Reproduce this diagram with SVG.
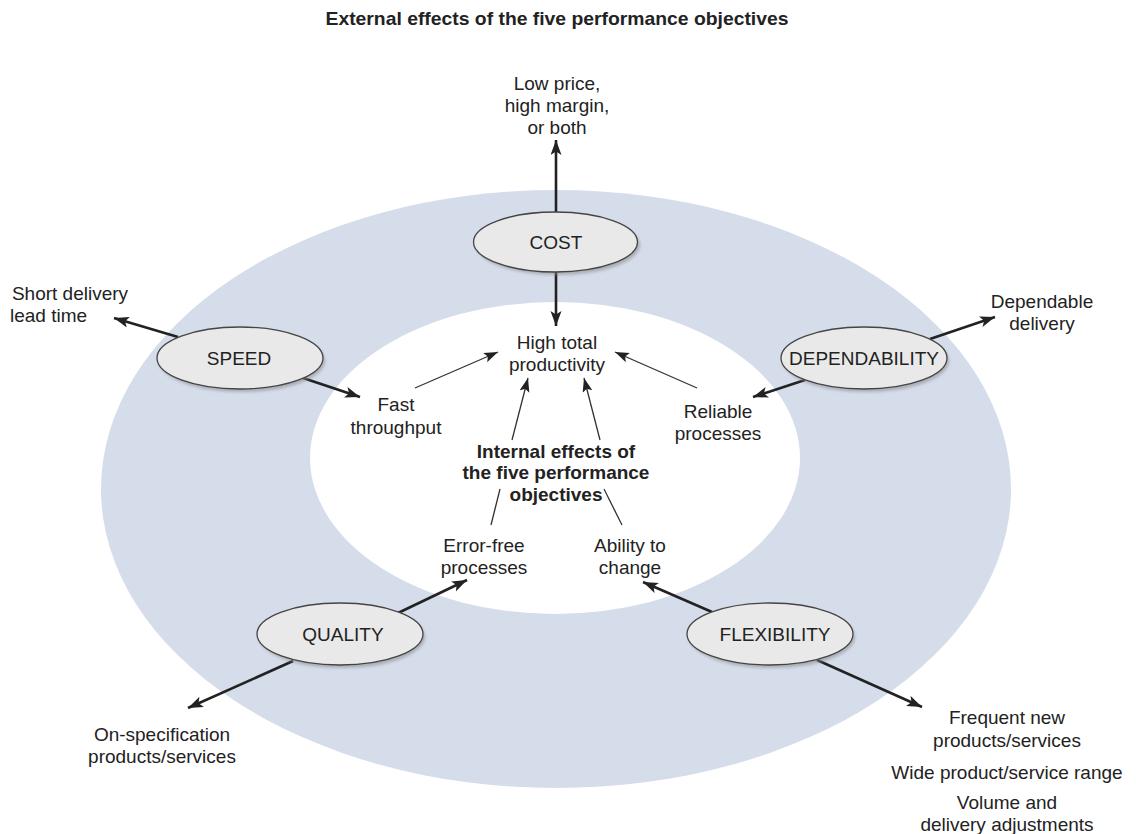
<svg xmlns="http://www.w3.org/2000/svg" width="1136" height="834" viewBox="0 0 1136 834">
<defs>
<style>
text{font-family:"Liberation Sans",Arial,sans-serif;font-size:19px;fill:#222;text-anchor:middle}
.b{font-weight:bold}
.node{fill:#e9e9e9;stroke:#444;stroke-width:1.3}
.shadow{fill:#888;opacity:0.55}
.thick{stroke:#222;stroke-width:2.6;fill:none;marker-end:url(#ah)}
.thin{stroke:#333;stroke-width:1.3;fill:none}
.thina{stroke:#333;stroke-width:1.3;fill:none;marker-end:url(#ah2)}
</style>
<marker id="ah" markerUnits="userSpaceOnUse" markerWidth="18" markerHeight="12" refX="15" refY="5.5" orient="auto" viewBox="0 0 18 12">
<path d="M0,0 L15,5.5 L0,11 L3.5,5.5 z" fill="#222"/>
</marker>
<marker id="ah2" markerUnits="userSpaceOnUse" markerWidth="16" markerHeight="12" refX="14" refY="5" orient="auto" viewBox="0 0 16 12">
<path d="M0,0 L14,5 L0,10 L3,5 z" fill="#222"/>
</marker>
<filter id="blur" x="-20%" y="-20%" width="140%" height="140%"><feGaussianBlur stdDeviation="1.5"/></filter>
</defs>
<rect width="1136" height="834" fill="#fff"/>
<g id="rings">
<ellipse cx="556" cy="489" rx="455" ry="299" fill="#d5dcea"/>
<ellipse cx="555" cy="458" rx="245" ry="156" fill="#fff"/>
</g>
<text class="b" x="557" y="25" font-size="17" textLength="463" lengthAdjust="spacingAndGlyphs">External effects of the five performance objectives</text>
<g id="connectors">
<line class="thick" x1="556" y1="212" x2="556" y2="140"/>
<line class="thick" x1="556" y1="272" x2="556" y2="326"/>
<line class="thick" x1="178" y1="337" x2="114" y2="318"/>
<line class="thick" x1="303" y1="378" x2="360" y2="397"/>
<line class="thick" x1="930" y1="339" x2="995" y2="317"/>
<line class="thick" x1="805" y1="380" x2="753" y2="397"/>
<line class="thick" x1="398" y1="613" x2="467" y2="580"/>
<line class="thick" x1="293" y1="661" x2="188" y2="708"/>
<line class="thick" x1="712" y1="612" x2="643" y2="582"/>
<line class="thick" x1="817" y1="660" x2="922" y2="707"/>
<line class="thina" x1="415" y1="388" x2="498" y2="352"/>
<line class="thina" x1="697" y1="388" x2="615" y2="352"/>
<line class="thina" x1="512" y1="440" x2="528" y2="378"/>
<line class="thina" x1="600" y1="440" x2="584" y2="378"/>
<line class="thin" x1="491" y1="525" x2="500" y2="489"/>
<line class="thin" x1="604" y1="489" x2="622" y2="525"/>
</g>
<g id="cost">
<ellipse class="shadow" cx="558" cy="245" rx="82" ry="30" filter="url(#blur)"/>
<ellipse class="node" cx="555.5" cy="242" rx="82" ry="30"/>
<text x="556" y="249">COST</text>
</g>
<g id="speed">
<ellipse class="shadow" cx="242" cy="361" rx="83" ry="31" filter="url(#blur)"/>
<ellipse class="node" cx="240" cy="358" rx="83" ry="31"/>
<text x="239" y="365">SPEED</text>
</g>
<g id="dependability">
<ellipse class="shadow" cx="866" cy="361" rx="83" ry="31" filter="url(#blur)"/>
<ellipse class="node" cx="864" cy="358" rx="83" ry="31"/>
<text x="864" y="365">DEPENDABILITY</text>
</g>
<g id="quality">
<ellipse class="shadow" cx="342" cy="637" rx="83" ry="31" filter="url(#blur)"/>
<ellipse class="node" cx="340" cy="634" rx="83" ry="31"/>
<text x="343" y="641">QUALITY</text>
</g>
<g id="flexibility">
<ellipse class="shadow" cx="772" cy="637" rx="83" ry="31" filter="url(#blur)"/>
<ellipse class="node" cx="770" cy="634" rx="83" ry="31"/>
<text x="775" y="641">FLEXIBILITY</text>
</g>
<g id="low-price">
<text x="557" y="90">Low price,</text>
<text x="557" y="112">high margin,</text>
<text x="557" y="134">or both</text>
</g>
<g id="short-delivery">
<text x="70" y="300">Short delivery</text>
<text x="59" y="322" style="text-anchor:start" dx="-49">lead time</text>
</g>
<g id="high-total">
<text x="557" y="349">High total</text>
<text x="557" y="371">productivity</text>
</g>
<g id="fast">
<text x="396" y="411">Fast</text>
<text x="396" y="434">throughput</text>
</g>
<g id="dependable">
<text x="1042" y="308">Dependable</text>
<text x="1042" y="330">delivery</text>
</g>
<g id="reliable">
<text x="718" y="418">Reliable</text>
<text x="718" y="440">processes</text>
</g>
<g id="internal">
<text class="b" x="556" y="458">Internal effects of</text>
<text class="b" x="556" y="479">the five performance</text>
<text class="b" x="556" y="501">objectives</text>
</g>
<g id="error-free">
<text x="484" y="552">Error-free</text>
<text x="484" y="574">processes</text>
</g>
<g id="ability">
<text x="630" y="552">Ability to</text>
<text x="630" y="574">change</text>
</g>
<g id="on-spec">
<text x="162" y="741">On-specification</text>
<text x="162" y="763">products/services</text>
</g>
<g id="flex-out">
<text x="1007" y="724">Frequent new</text>
<text x="1007" y="747">products/services</text>
<text x="1007" y="779">Wide product/service range</text>
<text x="1007" y="809">Volume and</text>
<text x="1007" y="831">delivery adjustments</text>
</g>
</svg>
